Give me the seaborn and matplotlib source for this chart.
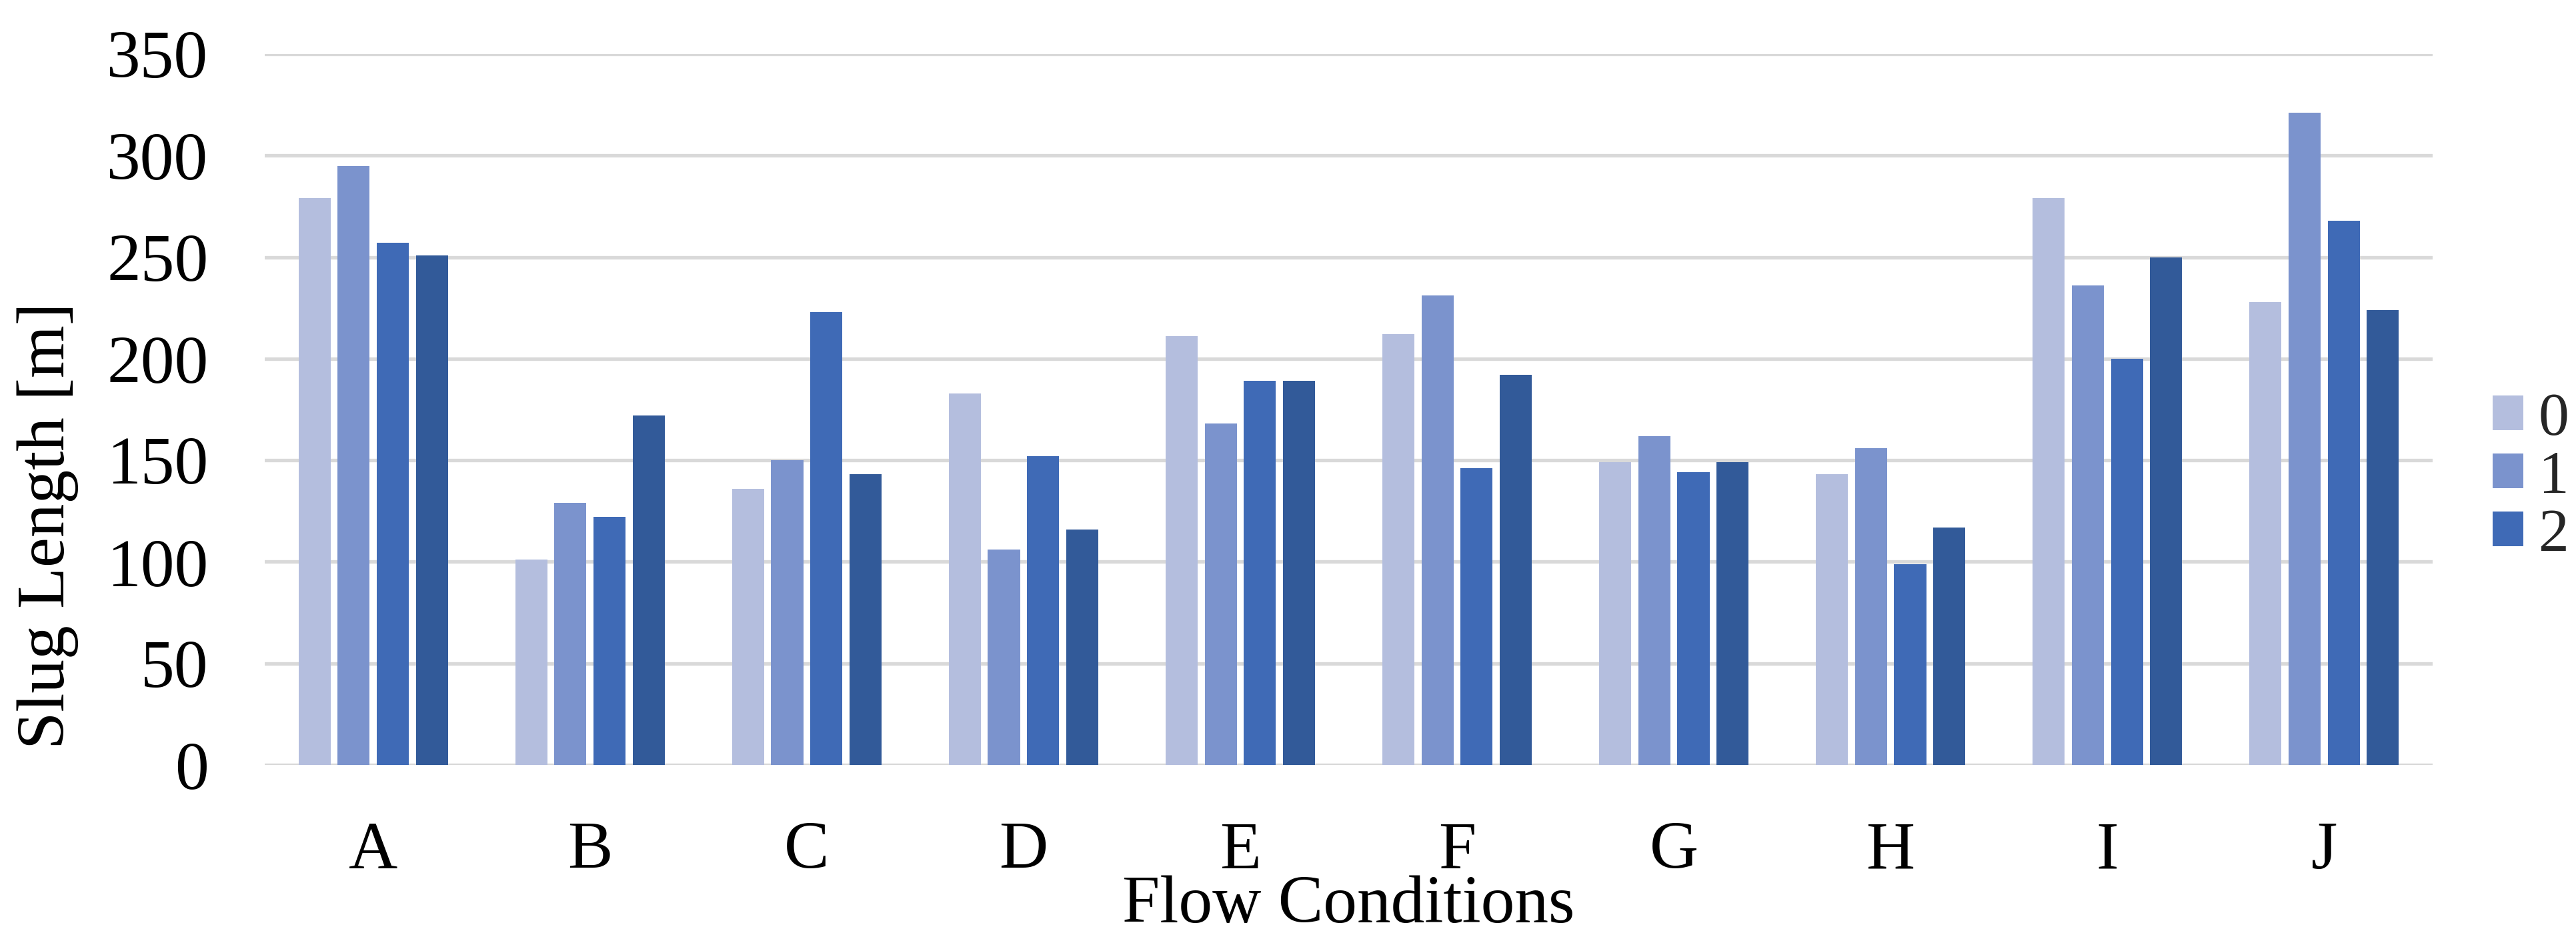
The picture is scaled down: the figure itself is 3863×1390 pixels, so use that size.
import pandas as pd
import matplotlib
matplotlib.use("Agg")
import matplotlib.pyplot as plt
from matplotlib.patches import Patch
import seaborn as sns

# values
conditions = ['A', 'B', 'C', 'D', 'E', 'F', 'G', 'H', 'I', 'J']
series_names = ['0', '1', '2', '3']
series_0 = [279, 101, 136, 183, 211, 212, 149, 143, 279, 228]
series_1 = [295, 129, 150, 106, 168, 231, 162, 156, 236, 321]
series_2 = [257, 122, 223, 152, 189, 146, 144, 99, 200, 268]
series_3 = [251, 172, 143, 116, 189, 192, 149, 117, 250, 224]
colors = ['#B4BEDE', '#7B93CD', '#3F6AB6', '#325A99']

sns.set_theme(style="white")
plt.rcParams['font.family'] = ['Liberation Serif', 'DejaVu Serif']


def make_plot():
    rows = []
    for name, vals in zip(series_names, [series_0, series_1, series_2, series_3]):
        for cond, v in zip(conditions, vals):
            rows.append({'condition': cond, 'series': name, 'length': v})
    df = pd.DataFrame(rows)

    fig, ax = plt.subplots(figsize=(38.63, 13.90), dpi=100)
    fig.subplots_adjust(left=0.1028, right=0.9443, top=0.9417, bottom=0.1748)

    sns.barplot(data=df, x='condition', y='length', hue='series',
                order=conditions, hue_order=series_names,
                palette=colors, saturation=1, width=0.7225, gap=0.18,
                linewidth=0, legend=False, ax=ax)

    ax.set_xlim(-0.5, len(conditions) - 0.5)
    ax.set_ylim(0, 350)
    ax.set_yticks(range(0, 351, 50))
    ax.set_axisbelow(True)
    ax.grid(axis='y', color='#D9D9D9', linewidth=3.8)
    ax.grid(axis='x', visible=False)
    for s in ax.spines.values():
        s.set_visible(False)

    ax.tick_params(axis='both', length=0, labelsize=73, pad=61, colors='black')

    ax.set_xlabel('Flow Conditions', fontsize=73, color='black', va='top')
    ax.xaxis.set_label_coords(0.5, -0.155)
    ax.set_ylabel('Slug Length [m]', fontsize=73, color='black')
    ax.yaxis.set_label_coords(-0.0858, 0.337)

    # only the first three series appear in the original legend
    handles = [Patch(facecolor=c, edgecolor='none') for c in colors[:3]]
    ax.legend(handles, series_names[:3], loc='center left',
              bbox_to_anchor=(1.0277, 0.404), frameon=False, fontsize=66,
              handlelength=0.5, handleheight=0.5, handletextpad=0.25,
              labelspacing=0.05, borderpad=0, borderaxespad=0)

    fig.savefig('out.png', dpi=100, facecolor='white')
    plt.close(fig)


if __name__ == "__main__":
    make_plot()
